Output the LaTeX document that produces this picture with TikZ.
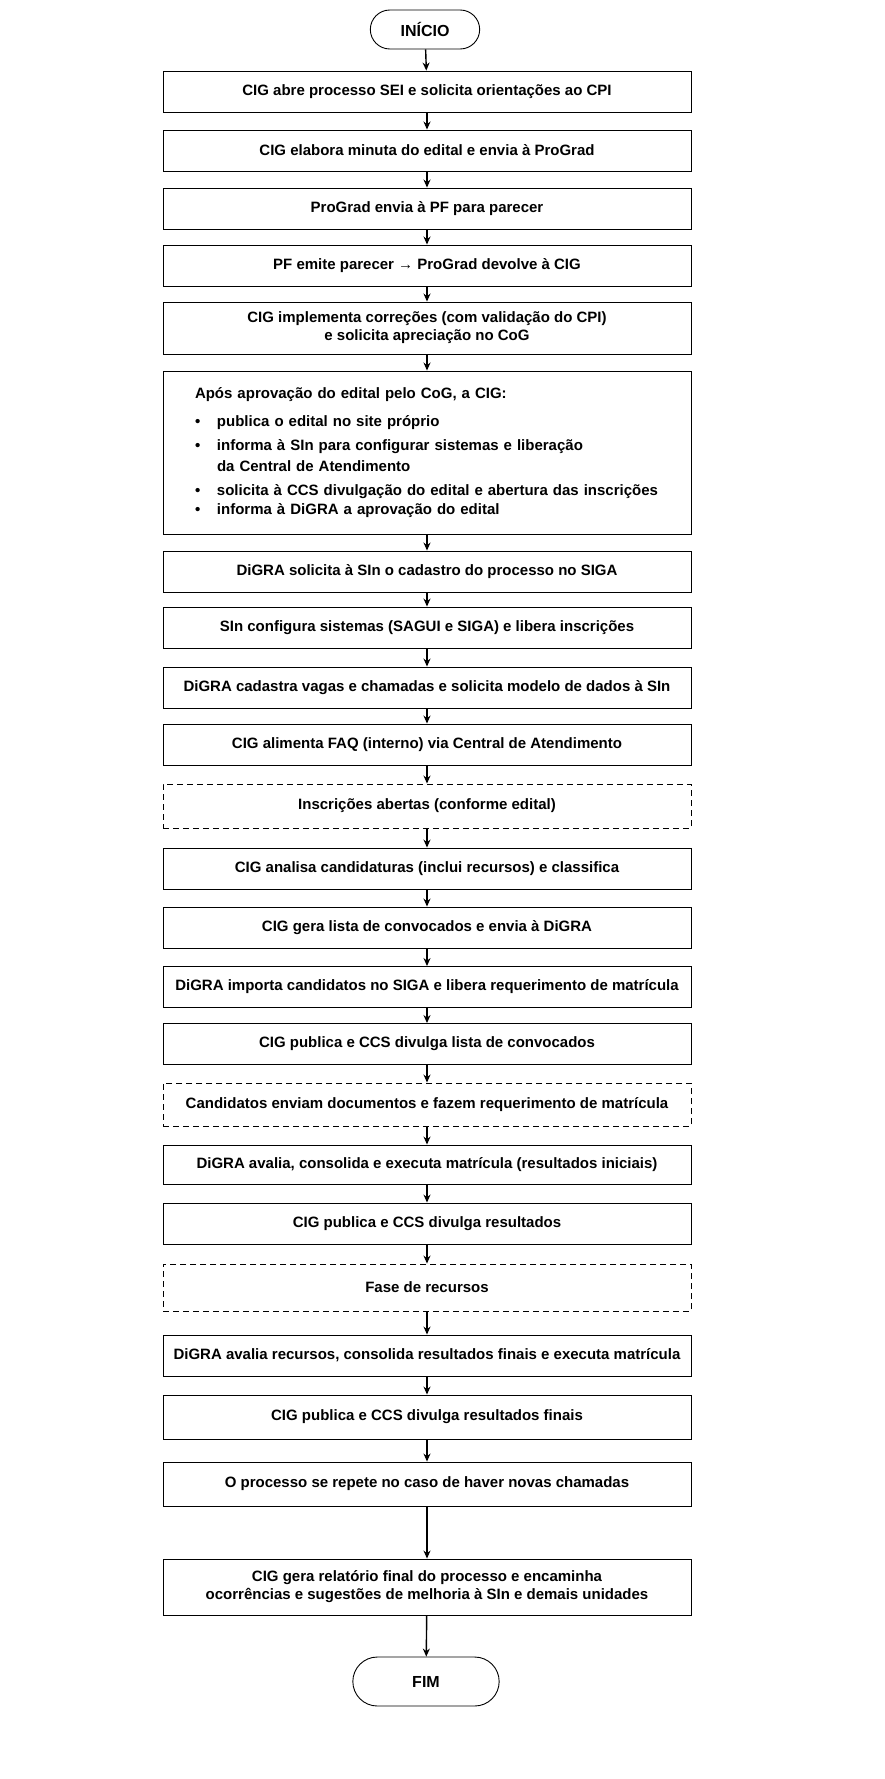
\documentclass[tikz,border=0pt]{standalone}
\usepackage{fontspec}
\setmainfont{Liberation Sans}
\usetikzlibrary{arrows.meta,shapes.misc}

\begin{document}
\begin{tikzpicture}
  [
    x=1pt, y=-1pt,
    block/.style =
      {draw, line width=0.9pt, rectangle, align=center, minimum width=528pt,
       minimum height=41pt, font=\bfseries\fontsize{15}{18}\selectfont},
    dblock/.style =
      {block, dashed, dash pattern=on 6pt off 4pt},
    term/.style =
      {draw, line width=0.9pt, rounded rectangle, minimum height=39pt,
       font=\bfseries\fontsize{16}{18}\selectfont},
    flow/.style =
      {-{Stealth[length=8pt,width=7pt]}, line width=1.4pt}
  ]

\useasboundingbox (0,0) rectangle (884,1779);

\node[term, minimum width=116pt] (ini) at (425,29.5) {INÍCIO};

\node[block] (b1) at (427,91.5) {CIG abre processo SEI e solicita orientações ao CPI};
\node[block] (b2) at (427,150.5) {CIG elabora minuta do edital e envia à ProGrad};
\node[block] (b3) at (427,208.5) {ProGrad envia à PF para parecer};
\node[block] (b4) at (427,265.5) {PF emite parecer → ProGrad devolve à CIG};
\node[block, minimum height=52pt] (b5) at (427,328)
  {CIG implementa correções (com validação do CPI)\\e solicita apreciação no CoG};

% bloco com lista
\node[block, minimum height=163pt, text width=464pt, align=left, inner xsep=32pt] (b6) at (427,452.5)
  {\fontsize{15}{21}\selectfont
   Após aprovação do edital pelo CoG, a CIG:\\[7pt]
   \makebox[22pt][l]{\textbullet}publica o edital no site próprio\\[3pt]
   \makebox[22pt][l]{\textbullet}informa à SIn para configurar sistemas e liberação\\
   \makebox[22pt][l]{}da Central de Atendimento\\[3pt]
   \makebox[22pt][l]{\textbullet}solicita à CCS divulgação do edital e abertura das inscrições\\[1pt]
   \makebox[22pt][l]{\textbullet}informa à DiGRA a aprovação do edital};

\node[block] (b7) at (427,571.5) {DiGRA solicita à SIn o cadastro do processo no SIGA};
\node[block] (b8) at (427,627.5) {SIn configura sistemas (SAGUI e SIGA) e libera inscrições};
\node[block] (b9) at (427,687.5) {DiGRA cadastra vagas e chamadas e solicita modelo de dados à SIn};
\node[block] (b10) at (427,744.5) {CIG alimenta FAQ (interno) via Central de Atendimento};
\node[dblock, minimum height=44pt] (b11) at (427,806) {Inscrições abertas (conforme edital)};
\node[block] (b12) at (427,868.5) {CIG analisa candidaturas (inclui recursos) e classifica};
\node[block] (b13) at (427,927.5) {CIG gera lista de convocados e envia à DiGRA};
\node[block] (b14) at (427,987) {DiGRA importa candidatos no SIGA e libera requerimento de matrícula};
\node[block] (b15) at (427,1044) {CIG publica e CCS divulga lista de convocados};
\node[dblock, minimum height=43pt] (b16) at (427,1104.5) {Candidatos enviam documentos e fazem requerimento de matrícula};
\node[block, minimum height=39pt] (b17) at (427,1164.5) {DiGRA avalia, consolida e executa matrícula (resultados iniciais)};
\node[block] (b18) at (427,1223.5) {CIG publica e CCS divulga resultados};
\node[dblock, minimum height=47pt] (b19) at (427,1287.5) {Fase de recursos};
\node[block] (b20) at (427,1355.5) {DiGRA avalia recursos, consolida resultados finais e executa matrícula};
\node[block, minimum height=44pt] (b21) at (427,1417) {CIG publica e CCS divulga resultados finais};
\node[block, minimum height=44pt] (b22) at (427,1484) {O processo se repete no caso de haver novas chamadas};
\node[block, minimum height=56pt] (b23) at (427,1587)
  {CIG gera relatório final do processo e encaminha\\ocorrências e sugestões de melhoria à SIn e demais unidades};

\node[term, minimum width=153pt, minimum height=49pt] (fim) at (426,1681.5) {FIM};

\draw[flow] (ini) -- (b1);
\foreach \a/\b in {b1/b2,b2/b3,b3/b4,b4/b5,b5/b6,b6/b7,b7/b8,b8/b9,b9/b10,b10/b11,
  b11/b12,b12/b13,b13/b14,b14/b15,b15/b16,b16/b17,b17/b18,b18/b19,b19/b20,b20/b21,
  b21/b22,b22/b23,b23/fim}
  \draw[flow] (\a) -- (\b);

\end{tikzpicture}
\end{document}
